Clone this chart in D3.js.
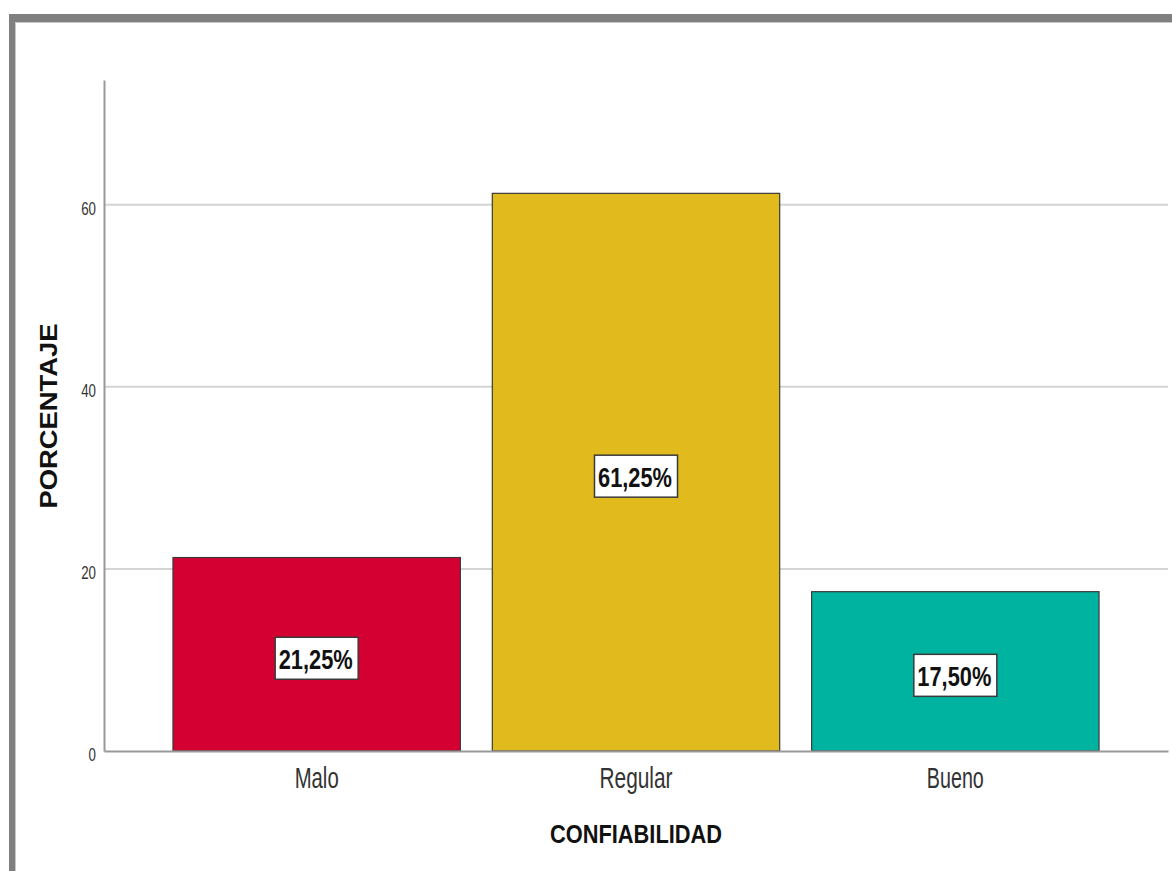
<!DOCTYPE html>
<html>
<head>
<meta charset="utf-8">
<script src="https://cdn.jsdelivr.net/npm/d3@7"></script>
<style>
  html, body { margin: 0; padding: 0; background: #fff; }
  svg { display: block; font-family: "Liberation Sans", Arial, sans-serif; }
</style>
</head>
<body>
<svg id="chart" width="1172" height="871"></svg>
<script>
const categories = ["Malo", "Regular", "Bueno"];
const values = [21.25, 61.25, 17.50];
const valueLabels = ["21,25%", "61,25%", "17,50%"];
const barColors = ["#D50032", "#E1BA1E", "#00B2A0"];
const yTicks = [0, 20, 40, 60];
const yMax = 73.7;
const xTitle = "CONFIABILIDAD";
const yTitle = "PORCENTAJE";

const svg = d3.select("#chart");

// outer frame (gray border top/left)
svg.append("rect").attr("x", 9).attr("y", 14).attr("width", 1163).attr("height", 8).attr("fill", "#808080");
svg.append("rect").attr("x", 9).attr("y", 14).attr("width", 6).attr("height", 857).attr("fill", "#808080");
svg.append("line").attr("x1", 15.5).attr("x2", 1172).attr("y1", 22.5).attr("y2", 22.5).attr("stroke", "#c8c8c8").attr("stroke-width", 1);
svg.append("line").attr("x1", 15.5).attr("x2", 15.5).attr("y1", 22.5).attr("y2", 871).attr("stroke", "#c8c8c8").attr("stroke-width", 1);

const x0 = 104, x1 = 1168, yBottom = 751, yTop = 80;

const x = d3.scaleBand().domain(categories).range([x0, x1]).paddingInner(0.1).paddingOuter(0.216);
const y = d3.scaleLinear().domain([0, yMax]).range([yBottom, yTop]);

// gridlines
svg.append("g").selectAll("line").data(yTicks.filter(t => t > 0)).join("line")
  .attr("x1", x0).attr("x2", x1)
  .attr("y1", d => y(d)).attr("y2", d => y(d))
  .attr("stroke", "#d4d4d4").attr("stroke-width", 2);

// bars
const data = categories.map((c, i) => ({ c, v: values[i], label: valueLabels[i], color: barColors[i] }));
svg.append("g").selectAll("rect").data(data).join("rect")
  .attr("x", d => x(d.c)).attr("y", d => y(d.v))
  .attr("width", x.bandwidth()).attr("height", d => y(0) - y(d.v))
  .attr("fill", d => d.color).attr("stroke", "#3a3a3a").attr("stroke-width", 1.2);

// y axis
const yAxis = d3.axisLeft(y).tickValues(yTicks).tickSize(0).tickPadding(0).tickFormat(d3.format("d"));
const gy = svg.append("g").attr("transform", `translate(${x0},0)`).call(yAxis);
gy.select(".domain").attr("stroke", "#999").attr("stroke-width", 2);
gy.selectAll("text")
  .attr("x", 0).attr("dy", null)
  .attr("transform", "translate(-8,9.5) scale(0.74,1)")
  .attr("fill", "#333")
  .style("font-size", "18px")
  .style("font-family", "'Liberation Sans', Arial, sans-serif");

// x axis
const xAxis = d3.axisBottom(x).tickSize(0).tickPadding(0);
const gx = svg.append("g").attr("transform", `translate(0,${yBottom})`).call(xAxis);
gx.select(".domain").attr("stroke", "#999").attr("stroke-width", 2);
const catWidths = { "Malo": 44, "Regular": 73, "Bueno": 57 };
gx.selectAll("text")
  .attr("y", 37).attr("dy", null)
  .attr("fill", "#333")
  .attr("textLength", d => catWidths[d])
  .attr("lengthAdjust", "spacingAndGlyphs")
  .style("font-size", "29px")
  .style("font-family", "'Liberation Sans', Arial, sans-serif");

// value labels
const lblW = 83, lblH = 42;
const lg = svg.append("g").selectAll("g").data(data).join("g")
  .attr("transform", d => `translate(${x(d.c) + x.bandwidth() / 2},${(y(d.v) + y(0)) / 2 + 4})`);
lg.append("rect")
  .attr("x", -lblW / 2).attr("y", -lblH / 2).attr("width", lblW).attr("height", lblH)
  .attr("fill", "#fff").attr("stroke", "#3a3a3a").attr("stroke-width", 1.5);
lg.append("text")
  .attr("x", -1).attr("y", 10.5)
  .attr("text-anchor", "middle")
  .attr("textLength", 74).attr("lengthAdjust", "spacingAndGlyphs")
  .attr("font-weight", "bold").attr("font-size", 28).attr("fill", "#111")
  .text(d => d.label);

// axis titles
svg.append("text")
  .attr("x", 636).attr("y", 843)
  .attr("text-anchor", "middle")
  .attr("textLength", 172).attr("lengthAdjust", "spacingAndGlyphs")
  .attr("font-weight", "bold").attr("font-size", 25).attr("fill", "#111")
  .text(xTitle);

svg.append("text")
  .attr("transform", "translate(57,416) rotate(-90)")
  .attr("text-anchor", "middle")
  .attr("textLength", 185).attr("lengthAdjust", "spacingAndGlyphs")
  .attr("font-weight", "bold").attr("font-size", 23).attr("fill", "#111")
  .text(yTitle);
</script>
</body>
</html>
